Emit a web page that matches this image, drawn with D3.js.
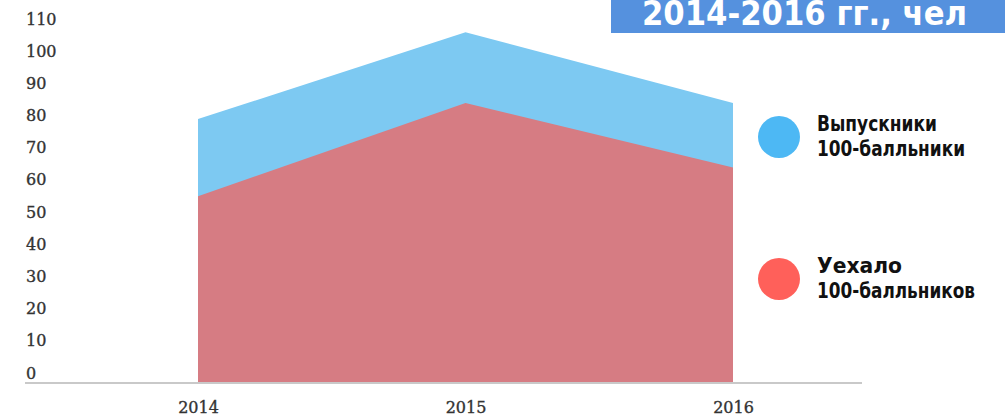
<!DOCTYPE html>
<html>
<head>
<meta charset="utf-8">
<script src="https://cdn.jsdelivr.net/npm/d3@7"></script>
<style>
  html, body { margin: 0; padding: 0; background: #fff; }
  svg { display: block; }
</style>
</head>
<body>
<svg id="chart" width="1005" height="416"></svg>
<script>
// Years on the horizontal axis
const years = ["2014", "2015", "2016"];
// Graduates with 100 points
const graduates = [82, 109, 87];
// 100-point graduates who left
const departed = [58, 87, 67];
// Vertical tick values
const yTicks = [0, 10, 20, 30, 40, 50, 60, 70, 80, 90, 100, 110];
// Legend entries
const legendLabels = [["Выпускники", "100-балльники"], ["Уехало", "100-балльников"]];
const titleText = "2014-2016 гг., чел";

const svg = d3.select("#chart");

const x = d3.scalePoint().domain(years).range([198, 733]);
const y = d3.scaleLinear().domain([0, 110]).range([383, 29]);

const areaOf = vals => d3.area()
  .x((d, i) => x(years[i]))
  .y0(y(0))
  .y1(d => y(d))(vals);

svg.append("path").attr("d", areaOf(graduates)).attr("fill", "#7dc9f2");
svg.append("path").attr("d", areaOf(departed)).attr("fill", "#d67c83");

// Baseline
svg.append("line")
  .attr("x1", 25).attr("x2", 862)
  .attr("y1", y(0)).attr("y2", y(0))
  .attr("stroke", "#c9c9c9").attr("stroke-width", 2);

const tickStyle = sel => sel
  .attr("font-family", "DejaVu Serif")
  .attr("font-size", 16)
  .attr("fill", "#333")
  .attr("stroke", "#333")
  .attr("stroke-width", 0.35);

// Y axis labels sit just above their values
const yAxis = svg.append("g")
  .call(d3.axisLeft(y).tickValues(yTicks).tickSize(0).tickFormat(d3.format("d")));
yAxis.select(".domain").remove();
yAxis.selectAll("text")
  .attr("x", 26).attr("dy", null).attr("y", -5)
  .attr("text-anchor", "start")
  .call(tickStyle);

// X axis labels
const xAxis = svg.append("g")
  .attr("transform", `translate(0,${y(0)})`)
  .call(d3.axisBottom(x).tickSize(0));
xAxis.select(".domain").remove();
xAxis.selectAll("text")
  .attr("dy", null).attr("y", 30)
  .call(tickStyle);

// Title banner
svg.append("rect")
  .attr("x", 611).attr("y", 0).attr("width", 394).attr("height", 33)
  .attr("fill", "#5591de");
svg.append("text")
  .attr("x", 642).attr("y", 25)
  .attr("font-family", "DejaVu Sans Condensed, DejaVu Sans")
  .attr("font-stretch", "condensed")
  .attr("font-weight", "bold")
  .attr("font-size", 33)
  .attr("fill", "#fff")
  .attr("textLength", 325)
  .attr("lengthAdjust", "spacingAndGlyphs")
  .text(titleText);

// Legend
const legendColors = ["#4db8f4", "#ff605a"];
const legendY = [137, 279];
const lineWidths = [[120, 148], [85, 158]];
legendLabels.forEach((lines, i) => {
  svg.append("circle")
    .attr("cx", 779).attr("cy", legendY[i]).attr("r", 21)
    .attr("fill", legendColors[i]);
  lines.forEach((t, j) => {
    svg.append("text")
      .attr("x", 817).attr("y", legendY[i] - 6 + j * 25)
      .attr("font-family", "DejaVu Sans Condensed, DejaVu Sans")
      .attr("font-stretch", "condensed")
      .attr("font-weight", "bold")
      .attr("font-size", 22)
      .attr("fill", "#111")
      .attr("textLength", lineWidths[i][j])
      .attr("lengthAdjust", "spacingAndGlyphs")
      .text(t);
  });
});
</script>
</body>
</html>
